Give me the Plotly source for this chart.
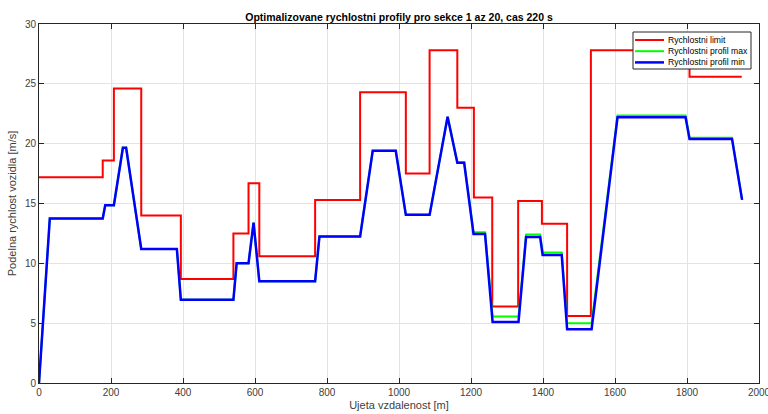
import plotly.graph_objects as go

# Speed limit: piecewise constant, value holds from each edge to the next
limit_x = [0, 177, 208, 284, 394, 540, 582, 612, 767, 892, 1019, 1085, 1162,
           1208, 1259, 1331, 1397, 1467, 1533, 1807, 1952]
limit_v = [17.2, 18.6, 24.6, 14.0, 8.7, 12.5, 16.7, 10.6, 15.3, 24.3, 17.5,
           27.8, 23.0, 15.5, 6.4, 15.2, 13.3, 5.6, 27.8, 25.6, 25.6]

# Optimised speed profiles (breakpoints of the piecewise-linear curves)
profile_x = [0, 30, 177, 184, 208, 233, 242, 284, 383, 394, 540, 549, 582, 596,
             612, 767, 779, 892, 927, 991, 1019, 1085, 1135, 1162, 1181, 1207,
             1239, 1260, 1332, 1353, 1392, 1399, 1452, 1467, 1535, 1607, 1796,
             1807, 1925, 1953]
profile_max = [0, 13.75, 13.75, 14.85, 14.85, 19.65, 19.65, 11.2, 11.2, 6.95,
               6.95, 10.0, 10.0, 13.4, 8.5, 8.5, 12.25, 12.25, 19.4, 19.4,
               14.05, 14.05, 22.25, 18.45, 18.45, 12.6, 12.6, 5.55, 5.55, 12.4,
               12.4, 10.9, 10.9, 5.0, 5.0, 22.35, 22.35, 20.5, 20.5, 15.35]
profile_min = [0, 13.75, 13.75, 14.85, 14.85, 19.65, 19.65, 11.2, 11.2, 6.95,
               6.95, 10.0, 10.0, 13.4, 8.5, 8.5, 12.25, 12.25, 19.4, 19.4,
               14.05, 14.05, 22.25, 18.4, 18.4, 12.45, 12.45, 5.1, 5.1, 12.2,
               12.2, 10.7, 10.7, 4.5, 4.5, 22.2, 22.2, 20.4, 20.4, 15.3]

series_names = ["Rychlostni limit", "Rychlostni profil max", "Rychlostni profil min"]
series_colors = ["#ff0000", "#00ff00", "#0000ff"]
series_widths = [2, 2, 2.5]

x_ticks = [0, 200, 400, 600, 800, 1000, 1200, 1400, 1600, 1800, 2000]
y_ticks = [0, 5, 10, 15, 20, 25, 30]

FONT = "Liberation Sans, Arial, sans-serif"
AXIS_COLOR = "#262626"
TICK_COLOR = "#404040"

W, H = 768, 414
ML, MR, MT, MB = 39, 9, 24, 31
PW, PH = W - ML - MR, H - MT - MB


def px_to_paper(px, py):
    return (px - ML) / PW, (H - MB - py) / PH


fig = go.Figure()
fig.add_trace(go.Scatter(x=limit_x, y=limit_v, mode="lines",
                         line=dict(color=series_colors[0], width=series_widths[0], shape="hv"),
                         name=series_names[0]))
fig.add_trace(go.Scatter(x=profile_x, y=profile_max, mode="lines",
                         line=dict(color=series_colors[1], width=series_widths[1]),
                         name=series_names[1]))
fig.add_trace(go.Scatter(x=profile_x, y=profile_min, mode="lines",
                         line=dict(color=series_colors[2], width=series_widths[2]),
                         name=series_names[2]))

axis_common = dict(
    showgrid=True, gridcolor="#e3e3e3", gridwidth=1,
    showline=True, linecolor=AXIS_COLOR, linewidth=1, mirror="allticks",
    ticks="inside", ticklen=5, tickcolor=AXIS_COLOR, tickwidth=1,
    zeroline=False, automargin=False, ticklabeloverflow="allow",
    tickfont=dict(family=FONT, size=10, color=TICK_COLOR),
)

# Compact boxed legend in the upper-right corner of the axes
shapes, annotations = [], []
x0, y0 = px_to_paper(633, 32)
x1, y1 = px_to_paper(751, 69)
shapes.append(dict(type="rect", xref="paper", yref="paper", x0=x0, y0=y1, x1=x1, y1=y0,
                   fillcolor="white", line=dict(color=AXIS_COLOR, width=1), layer="above"))
for i, (name, col, wd) in enumerate(zip(series_names, series_colors, series_widths)):
    row_y = 40 + i * 11.2
    lx0, ly = px_to_paper(635, row_y)
    lx1, _ = px_to_paper(664, row_y)
    tx, _ = px_to_paper(666, row_y)
    shapes.append(dict(type="line", xref="paper", yref="paper", x0=lx0, x1=lx1, y0=ly, y1=ly,
                       line=dict(color=col, width=wd), layer="above"))
    annotations.append(dict(xref="paper", yref="paper", x=tx, y=ly, text=name,
                            showarrow=False, xanchor="left", yanchor="middle",
                            font=dict(family=FONT, size=8.6, color="#000000")))

fig.update_layout(
    width=W, height=H,
    margin=dict(l=ML, r=MR, t=MT, b=MB),
    paper_bgcolor="white", plot_bgcolor="white",
    title=dict(text="<b>Optimalizovane rychlostni profily pro sekce 1 az 20, cas 220 s</b>",
               x=0.5, xanchor="center", xref="paper", y=(H - 17) / H, yanchor="middle",
               font=dict(family=FONT, size=10.5, color="#000000")),
    xaxis=dict(range=[0, 2000], tickvals=x_ticks,
               title=dict(text="Ujeta vzdalenost [m]", standoff=4,
                          font=dict(family=FONT, size=11, color=TICK_COLOR)),
               **axis_common),
    yaxis=dict(range=[0, 30], tickvals=y_ticks,
               title=dict(text="Podelna rychlost vozidla [m/s]", standoff=6,
                          font=dict(family=FONT, size=11, color=TICK_COLOR)),
               **axis_common),
    shapes=shapes,
    annotations=annotations,
    showlegend=False,
)

fig.write_html("out.html")
